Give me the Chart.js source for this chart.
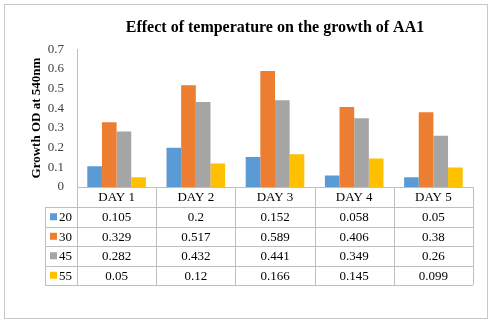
<!DOCTYPE html>
<html>
<head>
<meta charset="utf-8">
<script src="https://cdn.jsdelivr.net/npm/chart.js@4"></script>
<style>
  html, body { margin: 0; padding: 0; background: #fff; }
  canvas { display: block; }
</style>
</head>
<body>
<canvas id="grafico" width="491" height="323"></canvas>
<script>
// Dados do gráfico
const dias = ['DAY 1', 'DAY 2', 'DAY 3', 'DAY 4', 'DAY 5'];
const temperaturas = ['20', '30', '45', '55'];
const serie20 = [0.105, 0.2, 0.152, 0.058, 0.05];
const serie30 = [0.329, 0.517, 0.589, 0.406, 0.38];
const serie45 = [0.282, 0.432, 0.441, 0.349, 0.26];
const serie55 = [0.05, 0.12, 0.166, 0.145, 0.099];
const cores = ['#5B9BD5', '#ED7D31', '#A5A5A5', '#FFC000'];

const fonteSerif = '"Times New Roman", "Liberation Serif", serif';
const corLinha = '#BFBFBF';
const alturaLinha = 19.5;

// Moldura externa
const moldura = {
    id: 'moldura',
    beforeDraw(chart) {
        const ctx = chart.ctx;
        ctx.save();
        ctx.strokeStyle = '#C8C8C8';
        ctx.lineWidth = 1;
        ctx.strokeRect(4.5, 4.5, 483, 314);
        ctx.restore();
    }
};

// Tabela de dados abaixo do gráfico
const tabelaDados = {
    id: 'tabelaDados',
    afterDraw(chart) {
        const ctx = chart.ctx;
        const x = chart.scales.x;
        const area = chart.chartArea;
        const larg = (area.right - area.left) / dias.length;
        const topo = area.bottom;
        const inicioLinhas = x.bottom;
        const fim = inicioLinhas + alturaLinha * temperaturas.length;
        const esquerda = 45;

        ctx.save();
        ctx.strokeStyle = corLinha;
        ctx.lineWidth = 1;
        ctx.beginPath();
        // linhas horizontais
        ctx.moveTo(area.left, Math.round(topo) + 0.5);
        ctx.lineTo(area.right, Math.round(topo) + 0.5);
        for (let i = 0; i <= temperaturas.length; i++) {
            const y = Math.round(inicioLinhas + i * alturaLinha) + 0.5;
            ctx.moveTo(esquerda, y);
            ctx.lineTo(area.right, y);
        }
        // linhas verticais
        ctx.moveTo(esquerda + 0.5, inicioLinhas);
        ctx.lineTo(esquerda + 0.5, fim);
        for (let j = 0; j <= dias.length; j++) {
            const xx = Math.round(area.left + j * larg) + 0.5;
            ctx.moveTo(xx, topo);
            ctx.lineTo(xx, fim);
        }
        ctx.stroke();

        ctx.font = '13px ' + fonteSerif;
        ctx.textBaseline = 'middle';
        chart.data.datasets.forEach((ds, i) => {
            const yc = inicioLinhas + (i + 0.5) * alturaLinha;
            ctx.fillStyle = ds.backgroundColor;
            ctx.fillRect(50, yc - 3.5, 7, 7);
            ctx.fillStyle = '#000';
            ctx.textAlign = 'left';
            ctx.fillText(ds.label, 59, yc + 1);
            ctx.textAlign = 'center';
            ds.data.forEach((v, j) => {
                ctx.fillText(String(v), x.getPixelForValue(j), yc + 1);
            });
        });
        ctx.restore();
    }
};

const series = [serie20, serie30, serie45, serie55];

new Chart(document.getElementById('grafico').getContext('2d'), {
    type: 'bar',
    data: {
        labels: dias,
        datasets: temperaturas.map((t, i) => ({
            label: t,
            data: series[i],
            backgroundColor: cores[i],
            categoryPercentage: 0.74,
            barPercentage: 1.0
        }))
    },
    options: {
        responsive: false,
        animation: false,
        layout: { padding: { left: 25, right: 18, top: 0, bottom: 116 } },
        plugins: {
            legend: { display: false },
            tooltip: { enabled: false },
            title: {
                display: true,
                fullSize: false,
                text: 'Effect of temperature on the growth of AA1',
                color: '#000',
                font: { family: fonteSerif, size: 16, weight: 'bold' },
                padding: { top: 18, bottom: 12 }
            }
        },
        scales: {
            x: {
                grid: { display: false, drawTicks: false },
                border: { display: false },
                ticks: {
                    color: '#000',
                    padding: 3,
                    font: { family: fonteSerif, size: 13 }
                },
                afterFit(scale) { scale.height = 20; }
            },
            y: {
                min: 0,
                max: 0.7,
                grid: { display: false, drawTicks: false },
                border: { display: true, color: '#BFBFBF' },
                ticks: {
                    stepSize: 0.1,
                    padding: 13,
                    color: '#404040',
                    font: { family: fonteSerif, size: 13 },
                    callback: v => String(Math.round(v * 10) / 10)
                },
                title: {
                    display: true,
                    text: 'Growth OD at 540nm',
                    color: '#000',
                    font: { family: fonteSerif, size: 13, weight: 'bold' },
                    padding: { top: 4, bottom: 4 }
                },
                afterFit(scale) { scale.width = 52; }
            }
        }
    },
    plugins: [moldura, tabelaDados]
});
</script>
</body>
</html>
